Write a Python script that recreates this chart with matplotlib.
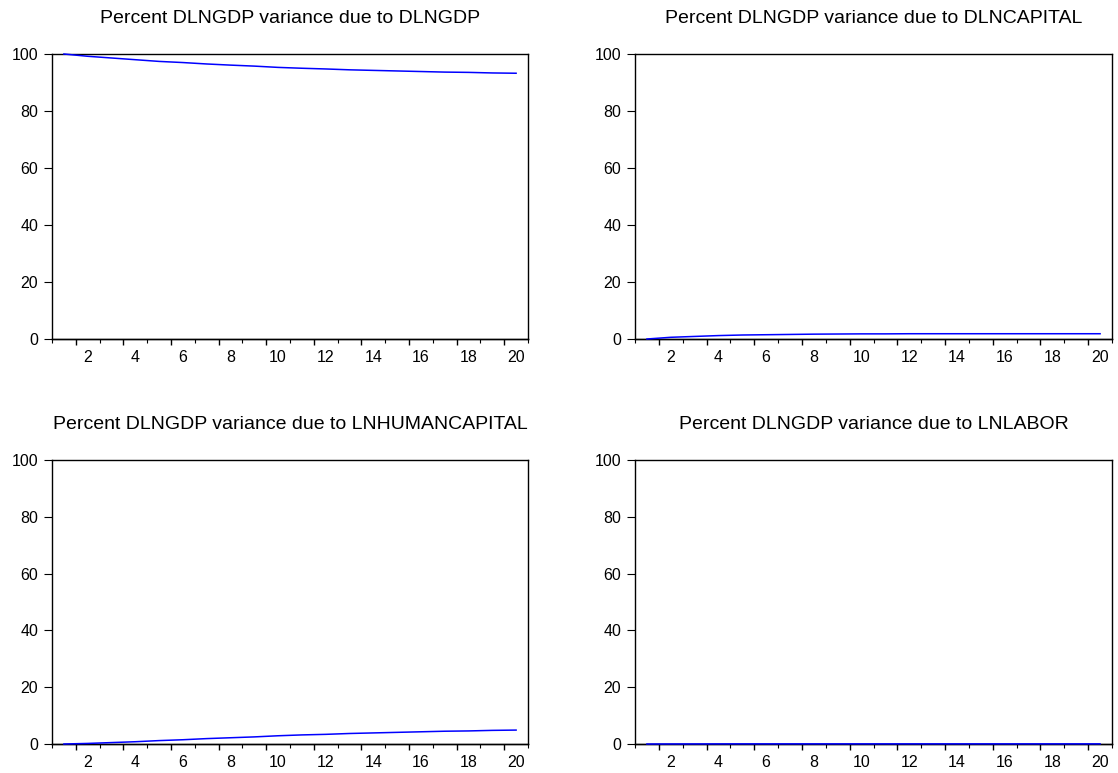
import matplotlib
matplotlib.use("Agg")
import matplotlib.pyplot as plt
import numpy as np

plt.rcParams['font.family'] = ['Liberation Sans', 'DejaVu Sans']

periods = list(range(1, 21))

# variance decomposition of DLNGDP, in percent
due_dlngdp = [100.0, 99.2, 98.6, 98.0, 97.4, 97.0, 96.5, 96.1, 95.75, 95.3,
              95.0, 94.75, 94.45, 94.25, 94.05, 93.85, 93.65, 93.55, 93.35, 93.25]
due_dlncapital = [0.0, 0.6, 0.9, 1.2, 1.4, 1.5, 1.6, 1.7, 1.75, 1.8,
                  1.8, 1.85, 1.85, 1.85, 1.85, 1.85, 1.85, 1.85, 1.85, 1.85]
due_lnhumancapital = [0.0, 0.2, 0.5, 0.8, 1.2, 1.5, 1.9, 2.2, 2.5, 2.9,
                      3.2, 3.4, 3.7, 3.9, 4.1, 4.3, 4.5, 4.6, 4.8, 4.9]
due_lnlabor = [0.0, 0.02, 0.03, 0.04, 0.05, 0.05, 0.05, 0.05, 0.05, 0.05,
               0.05, 0.05, 0.05, 0.05, 0.05, 0.05, 0.05, 0.05, 0.05, 0.05]

titles = ["Percent DLNGDP variance due to DLNGDP",
          "Percent DLNGDP variance due to DLNCAPITAL",
          "Percent DLNGDP variance due to LNHUMANCAPITAL",
          "Percent DLNGDP variance due to LNLABOR"]
series = [due_dlngdp, due_dlncapital, due_lnhumancapital, due_lnlabor]

W, H = 1118, 773
fig = plt.figure(figsize=(W / 100, H / 100), dpi=100)

# axes boxes in pixels: left, top, right, bottom
boxes = [(52, 54, 528, 339), (635, 54, 1112, 339),
         (52, 460, 528, 744), (635, 460, 1112, 744)]

for box, title, vals in zip(boxes, titles, series):
    l, t, r, b = box
    ax = fig.add_axes([l / W, 1 - b / H, (r - l) / W, (b - t) / H])
    ax.plot(periods, vals, color='#0000ff', lw=1.1, zorder=5, clip_on=False)
    ax.set_xlim(0.5, 20.5)
    ax.set_ylim(0, 100)
    ax.set_yticks([0, 20, 40, 60, 80, 100])
    ax.set_xticks(range(2, 21, 2))
    ax.set_xticks(np.arange(0.5, 21, 2), minor=True)
    ax.tick_params(axis='x', which='major', length=0, pad=8, labelsize=11.5)
    ax.tick_params(axis='x', which='minor', length=3, width=0.8, direction='out')
    ax.tick_params(axis='y', length=6, width=0.8, direction='out', pad=4, labelsize=11.5)
    # longer ticks at the odd boundaries
    sec = ax.secondary_xaxis('bottom')
    sec.set_xticks(np.arange(1.5, 20, 2))
    sec.tick_params(length=4.2, width=1.0, labelbottom=False)
    sec.spines['bottom'].set_linewidth(1.0)
    for s in ax.spines.values():
        s.set_linewidth(1.0)
    ax.set_title(title, fontsize=14, pad=22)

fig.savefig("out.png", dpi=100)
